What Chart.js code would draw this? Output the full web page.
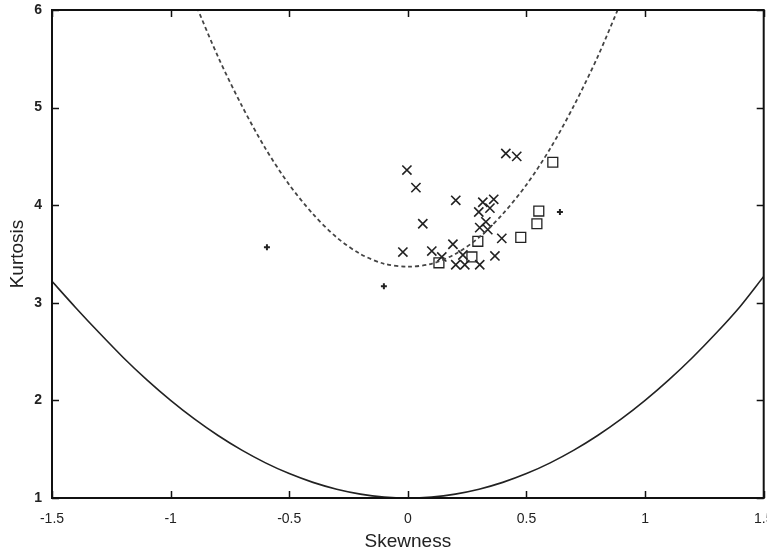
<!DOCTYPE html>
<html>
<head>
<meta charset="utf-8">
<title>Skewness vs Kurtosis</title>
<script src="https://cdn.jsdelivr.net/npm/chart.js@4/dist/chart.umd.min.js"></script>
<style>
  html, body { margin: 0; padding: 0; background: #fff; overflow: hidden; }
  #wrap { width: 767px; height: 553px; overflow: hidden; }
</style>
</head>
<body>
<div id="wrap"><canvas id="miGrafico" width="772" height="553"></canvas></div>
<script>
// tick labels
var xTicks = [-1.5, -1, -0.5, 0, 0.5, 1, 1.5];
var yTicks = [1, 2, 3, 4, 5, 6];

// solid lower curve
var lowerSkew = [-1.5, -1.4, -1.3, -1.2, -1.1, -1.0, -0.9, -0.8, -0.7, -0.6, -0.5, -0.4, -0.3, -0.2, -0.1, 0.0,
                 0.1, 0.2, 0.3, 0.4, 0.5, 0.6, 0.7, 0.8, 0.9, 1.0, 1.1, 1.2, 1.3, 1.4, 1.5];
var lowerKurt = [3.22, 2.95, 2.69, 2.44, 2.21, 2.00, 1.81, 1.64, 1.49, 1.36, 1.25, 1.16, 1.09, 1.04, 1.01, 1.00,
                 1.01, 1.04, 1.09, 1.16, 1.25, 1.36, 1.49, 1.64, 1.81, 2.00, 2.21, 2.44, 2.69, 2.96, 3.27];

// dashed curve
var dashSkew = [-0.9, -0.8, -0.7, -0.6, -0.5, -0.4, -0.3, -0.2, -0.1, 0, 0.1, 0.2, 0.3, 0.4, 0.5, 0.6, 0.7, 0.8, 0.9];
var dashKurt = [6.09, 5.52, 5.02, 4.58, 4.21, 3.91, 3.67, 3.50, 3.40, 3.37, 3.40, 3.50, 3.67, 3.91, 4.21, 4.58, 5.02, 5.52, 6.09];

// x markers
var crossSkew = [-0.004, 0.034, 0.413, 0.459, 0.202, 0.316, 0.362, 0.299, 0.346, 0.329, 0.303, 0.337,
                 0.063, 0.396, 0.190, -0.021, 0.101, 0.143, 0.232, 0.367, 0.202, 0.240, 0.303];
var crossKurt = [4.36, 4.18, 4.53, 4.50, 4.05, 4.03, 4.06, 3.93, 3.97, 3.83, 3.77, 3.75,
                 3.81, 3.66, 3.60, 3.52, 3.53, 3.47, 3.49, 3.48, 3.39, 3.39, 3.39];

// square markers
var boxSkew = [0.611, 0.552, 0.544, 0.476, 0.295, 0.270, 0.131];
var boxKurt = [4.44, 3.94, 3.81, 3.67, 3.63, 3.47, 3.41];

// plus markers
var plusSkew = [-0.594, -0.101, 0.641];
var plusKurt = [3.57, 3.17, 3.93];

function pares(xs, ys) {
    var out = [];
    for (var i = 0; i < xs.length; i++) {
        out.push({x: xs[i], y: ys[i]});
    }
    return out;
}

// tick marks drawn inside the frame, plus top and right border
var marcoPlugin = {
    id: 'marco',
    afterDatasetsDraw: function(chart) {
        var ctx = chart.ctx;
        var a = chart.chartArea;
        var xs = chart.scales.x;
        var ys = chart.scales.y;
        ctx.save();
        ctx.strokeStyle = '#111';
        ctx.lineWidth = 1.5;
        ctx.beginPath();
        xTicks.forEach(function(v) {
            var px = Math.round(xs.getPixelForValue(v)) + 0.5;
            ctx.moveTo(px, a.bottom); ctx.lineTo(px, a.bottom - 7);
            ctx.moveTo(px, a.top); ctx.lineTo(px, a.top + 7);
        });
        yTicks.forEach(function(v) {
            var py = Math.round(ys.getPixelForValue(v)) + 0.5;
            ctx.moveTo(a.left, py); ctx.lineTo(a.left + 7, py);
            ctx.moveTo(a.right, py); ctx.lineTo(a.right - 7, py);
        });
        ctx.stroke();
        ctx.lineWidth = 2;
        ctx.strokeRect(a.left, a.top, a.right - a.left, a.bottom - a.top);
        ctx.restore();
    }
};

window.onload = function() {
    var ctx = document.getElementById('miGrafico').getContext('2d');
    var myChart = new Chart(ctx, {
        type: 'scatter',
        data: {
            datasets: [{
                label: 'lower',
                data: pares(lowerSkew, lowerKurt),
                showLine: true,
                borderColor: '#222',
                borderWidth: 1.6,
                pointRadius: 0,
                tension: 0.3
            }, {
                label: 'dashed',
                data: pares(dashSkew, dashKurt),
                showLine: true,
                borderColor: '#444',
                borderWidth: 1.8,
                borderDash: [4, 3],
                pointRadius: 0,
                tension: 0.3
            }, {
                label: 'cross',
                data: pares(crossSkew, crossKurt),
                pointStyle: 'crossRot',
                pointRadius: 6.5,
                borderColor: '#222',
                pointBorderWidth: 1.6
            }, {
                label: 'box',
                data: pares(boxSkew, boxKurt),
                pointStyle: 'rect',
                pointRadius: 7,
                borderColor: '#222',
                backgroundColor: 'rgba(0,0,0,0)',
                pointBorderWidth: 1.3
            }, {
                label: 'plus',
                data: pares(plusSkew, plusKurt),
                pointStyle: 'cross',
                pointRadius: 3,
                borderColor: '#222',
                pointBorderWidth: 2
            }]
        },
        options: {
            responsive: false,
            animation: false,
            layout: { padding: { top: 10, right: 0, left: 0, bottom: 0 } },
            plugins: {
                legend: { display: false },
                tooltip: { enabled: false }
            },
            scales: {
                x: {
                    type: 'linear',
                    min: -1.5,
                    max: 1.5,
                    afterBuildTicks: function(scale) {
                        scale.ticks = xTicks.map(function(v) { return {value: v}; });
                    },
                    afterFit: function(scale) {
                        scale.height = 55;
                        scale.paddingLeft = 0;
                        scale.paddingRight = 0;
                    },
                    grid: { display: false, drawTicks: false },
                    border: { display: true, color: '#111', width: 2 },
                    ticks: {
                        color: '#222',
                        padding: 13,
                        maxRotation: 0,
                        autoSkip: false,
                        font: { family: 'Liberation Sans', size: 14 },
                        callback: function(v) { return String(v); }
                    },
                    title: {
                        display: true,
                        text: 'Skewness',
                        color: '#222',
                        padding: { top: 0, bottom: 0 },
                        font: { family: 'Liberation Sans', size: 19 }
                    }
                },
                y: {
                    type: 'linear',
                    min: 1,
                    max: 6,
                    afterBuildTicks: function(scale) {
                        scale.ticks = yTicks.map(function(v) { return {value: v}; });
                    },
                    afterFit: function(scale) {
                        scale.width = 52;
                        scale.paddingTop = 0;
                        scale.paddingBottom = 0;
                    },
                    grid: { display: false, drawTicks: false },
                    border: { display: true, color: '#111', width: 2 },
                    ticks: {
                        color: '#222',
                        padding: 10,
                        font: { family: 'Liberation Sans', size: 14, weight: 'bold' }
                    },
                    title: {
                        display: true,
                        text: 'Kurtosis',
                        color: '#222',
                        padding: { top: 6, bottom: 0 },
                        font: { family: 'Liberation Sans', size: 19 }
                    }
                }
            }
        },
        plugins: [marcoPlugin]
    });
}
</script>
</body>
</html>
